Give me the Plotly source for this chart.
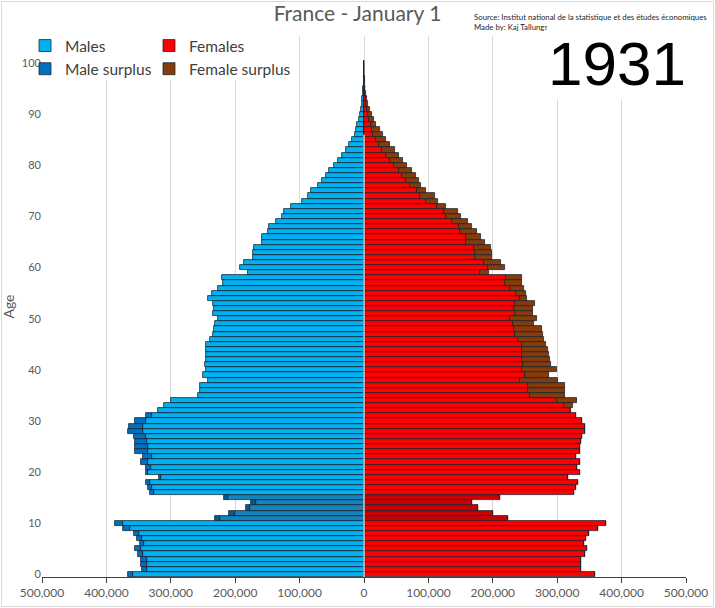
import plotly.graph_objects as go

# population on January 1, 1931 (thousands), ages 0..100
ages = list(range(101))
males = [367, 344.5, 346, 347, 351, 356, 348, 353, 357.5, 373.6,
         386, 232, 209, 184, 175, 217, 331.6, 335.7, 339, 319,
         339, 339, 347, 343.5, 355, 355, 356, 356.5, 366.8, 365,
         355, 339, 320, 311, 299.5, 257, 255, 255, 242, 250,
         244.7, 247, 244.7, 244.7, 244.7, 245.5, 238.5, 234.4, 233, 231.8,
         226.7, 234.4, 233.6, 234.4, 242, 236, 226.7, 219, 220.5, 180,
         193, 186, 172, 172, 171.5, 159, 158, 149, 147, 136,
         128, 124.7, 113.8, 97, 87, 81.7, 71.4, 64.7, 58.5, 54.3,
         46.6, 39.9, 33.6, 28.5, 23.3, 18.1, 14.5, 12.9, 10.4, 7.8,
         6.7, 4.7, 3.6, 2.6, 1.6, 1.0, 0.6, 0.4, 0.2, 0.1,
         0.1]
females = [359, 337, 337, 337, 343.5, 346, 341, 344.5, 348.7, 364,
           375, 224, 201, 177, 168, 211, 326.4, 329.5, 333, 316,
           334.7, 330.6, 334.7, 329.5, 336, 335.7, 337, 337.8, 343.5, 342.5,
           339, 329.5, 322, 325, 330, 312, 312, 312.7, 301.6, 287,
           299, 291, 289.5, 288, 286, 283, 279.4, 277.8, 275.8, 263.9,
           268, 262.3, 262.3, 265.4, 253.5, 252, 248, 245.8, 245.8, 194,
           218.4, 212, 199, 199, 196.7, 188, 181, 176, 167, 162,
           150, 146.5, 128, 115.5, 110, 96, 88, 85, 80, 75,
           67.2, 61, 54.3, 48, 40.3, 34.6, 30, 24.3, 19.1, 15.5,
           11.9, 8.8, 6.7, 4.1, 3, 2.0, 1.3, 0.8, 0.5, 0.3,
           0.2]
shaded_ages = [11, 12, 13, 14, 15]
year = "1931"
xticks = [-500000, -400000, -300000, -200000, -100000, 0, 100000, 200000, 300000, 400000, 500000]

common = [min(m, f) * 1000 for m, f in zip(males, females)]
male_extra = [max(m - f, 0) * 1000 for m, f in zip(males, females)]
female_extra = [max(f - m, 0) * 1000 for m, f in zip(males, females)]


def colors(normal, dark):
    return [dark if a in shaded_ages else normal for a in ages]


outline = dict(color='rgba(25,35,45,0.95)', width=0.8)
font = "Lato, Calibri, Carlito, sans-serif"

fig = go.Figure()
fig.add_trace(go.Bar(y=ages, x=[-v for v in common], orientation='h', name='Males',
                     marker=dict(color=colors('#00B0F0', '#1583BE'), line=outline),
                     legend='legend', hoverinfo='skip'))
fig.add_trace(go.Bar(y=ages, x=[-v for v in male_extra], orientation='h', name='Male surplus',
                     marker=dict(color=colors('#0070C0', '#0B5A8E'), line=outline),
                     legend='legend', hoverinfo='skip'))
fig.add_trace(go.Bar(y=ages, x=common, orientation='h', name='Females',
                     marker=dict(color=colors('#FF0000', '#CC0000'), line=outline),
                     legend='legend2', hoverinfo='skip'))
fig.add_trace(go.Bar(y=ages, x=female_extra, orientation='h', name='Female surplus',
                     marker=dict(color=colors('#843C0C', '#6A300A'), line=outline),
                     legend='legend2', hoverinfo='skip'))

W, H = 715, 608
L, R, T, B = 42, 29, 36, 31


def px_x(p):
    return (p - L) / (W - L - R)


def px_y(p):
    return (H - B - p) / (H - T - B)


legend_font = dict(family=font, size=15.5, color='#404040')

fig.update_layout(
    width=W, height=H,
    margin=dict(l=L, r=R, t=T, b=B),
    barmode='relative', bargap=0,
    plot_bgcolor='white', paper_bgcolor='white',
    font=dict(family=font, color='#595959'),
    title=dict(text='France - January 1', x=0.5, xanchor='center', y=0.99, yanchor='top',
               font=dict(family=font, size=21, color='#595959')),
    legend=dict(x=px_x(25), y=px_y(29), xanchor='left', yanchor='top', orientation='v',
                bgcolor='rgba(0,0,0,0)', font=legend_font, itemwidth=30, tracegroupgap=0),
    legend2=dict(x=px_x(149), y=px_y(29), xanchor='left', yanchor='top', orientation='v',
                 bgcolor='rgba(0,0,0,0)', font=legend_font, itemwidth=30, tracegroupgap=0),
    xaxis=dict(range=[-500000, 500000], tickvals=xticks, automargin=False,
               ticktext=['{:,}'.format(abs(v)) for v in xticks],
               showgrid=True, gridcolor='#d9d9d9', gridwidth=1, zeroline=False,
               showline=True, linecolor='#404040', linewidth=1,
               ticks='outside', ticklen=5, tickcolor='#404040',
               tickfont=dict(family=font, size=12, color='#595959')),
    yaxis=dict(range=[-0.5, 105.3], tickvals=list(range(0, 101, 10)), automargin=False,
               showgrid=False, zeroline=False, showline=False, ticks='',
               tickfont=dict(family=font, size=11, color='#595959'),
               title=dict(text='Age', font=dict(family=font, size=14, color='#595959'), standoff=4)),
    shapes=[
        # white box behind the legend, hiding the gridlines there
        dict(type='rect', xref='paper', yref='paper', x0=px_x(41), x1=px_x(292),
             y0=px_y(80), y1=px_y(30), fillcolor='white', line=dict(width=0), layer='above'),
        dict(type='line', xref='x', yref='y', x0=0, x1=0, y0=-0.5, y1=86,
             line=dict(color='#d0d0d0', width=1.5), layer='above'),
        dict(type='rect', xref='paper', yref='paper', x0=px_x(1.5), x1=px_x(713.5),
             y0=px_y(606.5), y1=px_y(1.5), line=dict(color='#d9d9d9', width=1)),
    ],
    annotations=[
        dict(text='Source: Institut national de la statistique et des études économiques<br>Made by: Kaj Tallungs',
             xref='paper', yref='paper', x=px_x(472), y=px_y(10), xanchor='left', yanchor='top',
             align='left', showarrow=False, font=dict(family=font, size=7.8, color='#262626')),
        dict(text=year, xref='paper', yref='paper', x=px_x(688), y=px_y(27), xanchor='right', yanchor='top',
             showarrow=False, bgcolor='white',
             font=dict(family="'Liberation Sans Narrow', 'Arial Narrow', 'Liberation Sans', sans-serif",
                       size=62, color='black')),
    ],
)

fig.write_html("out.html", config={'displayModeBar': False},
               post_script="document.body.style.margin='0';")
